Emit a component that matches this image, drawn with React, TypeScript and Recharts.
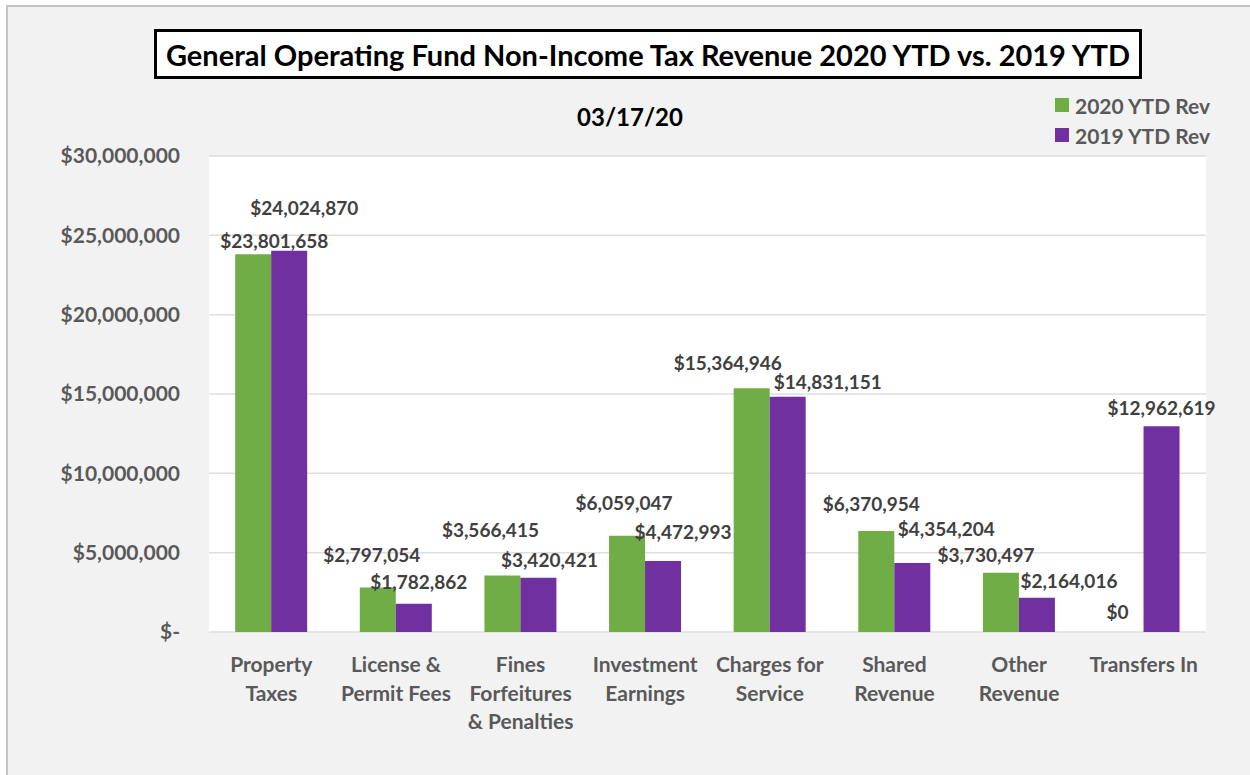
import React from "react";
import { BarChart, Bar, XAxis, YAxis, CartesianGrid, Legend, LabelList } from "recharts";

const categories = [
  "Property Taxes",
  "License & Permit Fees",
  "Fines Forfeitures & Penalties",
  "Investment Earnings",
  "Charges for Service",
  "Shared Revenue",
  "Other Revenue",
  "Transfers In",
];
const categoryLines = [
  ["Property", "Taxes"],
  ["License &", "Permit Fees"],
  ["Fines", "Forfeitures", "& Penalties"],
  ["Investment", "Earnings"],
  ["Charges for", "Service"],
  ["Shared", "Revenue"],
  ["Other", "Revenue"],
  ["Transfers In"],
];
const rev2020 = [23801658, 2797054, 3566415, 6059047, 15364946, 6370954, 3730497, 0];
const rev2019 = [24024870, 1782862, 3420421, 4472993, 14831151, 4354204, 2164016, 12962619];
const yTicks = [0, 5000000, 10000000, 15000000, 20000000, 25000000, 30000000];

// label offsets (relative to bar top centre), imitating the manually nudged labels
const off2020 = [[21, -14], [-6, -33], [-12, -46], [-3, -33], [-24, -26], [-5, -27], [-15, -18], [-8, -20]];
const off2019 = [[15, -43], [5, -22], [11, -18], [20, -30], [40, -15], [34, -34], [32, -17], [0, -19]];

const data = categories.map((name, i) => ({ name, y2020: rev2020[i], y2019: rev2019[i] }));

const FONT = "Lato, 'Noto Sans', sans-serif";
const GREEN = "#70ad47";
const PURPLE = "#7030a0";

const money = (v: number) => "$" + Math.round(v).toLocaleString("en-US");

const makeLabel = (offs: number[][]) => (props: any) => {
  const { x, y, width, height, value, index } = props;
  const o = offs[index] || [0, -10];
  const top = Number(height) < 0 ? Number(y) + Number(height) : Number(y);
  return (
    <text
      x={Number(x) + Number(width) / 2 + o[0]}
      y={top + o[1]}
      textAnchor="middle"
      dominantBaseline="central"
      fontFamily={FONT}
      fontWeight={700}
      fontSize={19}
      fill="#404040"
    >
      {money(Number(value))}
    </text>
  );
};

const XTick = (props: any) => {
  const { x, y, payload } = props;
  const lines = categoryLines[payload.index] || [String(payload.value)];
  return (
    <g>
      {lines.map((l, k) => (
        <text
          key={k}
          x={x}
          y={y + 32 + k * 28.5}
          textAnchor="middle"
          fontFamily={FONT}
          fontWeight={700}
          fontSize={21}
          fill="#595959"
        >
          {l}
        </text>
      ))}
    </g>
  );
};

const LegendContent = () => {
  const items = [
    { label: "2020 YTD Rev", color: GREEN },
    { label: "2019 YTD Rev", color: PURPLE },
  ];
  return (
    <div>
      {items.map((it) => (
        <div key={it.label} style={{ display: "flex", alignItems: "center", height: 30 }}>
          <span style={{ display: "inline-block", width: 14, height: 14, background: it.color, marginRight: 6 }} />
          <span style={{ fontFamily: FONT, fontWeight: 700, fontSize: 21, color: "#595959", whiteSpace: "nowrap" }}>
            {it.label}
          </span>
        </div>
      ))}
    </div>
  );
};

export default function App() {
  return (
    <div style={{ position: "absolute", left: 0, top: 0, width: 1250, height: 775, background: "#fff", overflow: "hidden" }}>
      <div
        style={{
          position: "absolute",
          left: 6,
          top: 5,
          width: 1260,
          height: 790,
          border: "2px solid #c4c4c4",
          background: "#f2f2f2",
        }}
      />
      <div
        style={{
          position: "absolute",
          left: 154,
          top: 29,
          width: 982,
          height: 44,
          border: "3px solid #000",
          background: "#fff",
          display: "flex",
          alignItems: "center",
          justifyContent: "center",
          fontFamily: FONT,
          fontWeight: 700,
          fontSize: 29,
          color: "#000",
          whiteSpace: "nowrap",
        }}
      >
        General Operating Fund Non-Income Tax Revenue 2020 YTD vs. 2019 YTD
      </div>
      <div
        style={{
          position: "absolute",
          left: 430,
          top: 102,
          width: 400,
          textAlign: "center",
          fontFamily: FONT,
          fontWeight: 700,
          fontSize: 24,
          color: "#000",
        }}
      >
        03/17/20
      </div>
      <div style={{ position: "absolute", left: 0, top: 0 }}>
        <BarChart
          width={1250}
          height={775}
          data={data}
          margin={{ top: 156, right: 44, bottom: 43, left: 0 }}
          barCategoryGap="21%"
          barGap={0}
        >
          <CartesianGrid vertical={false} stroke="#dedede" strokeWidth={1.5} fill="#ffffff" />
          <XAxis dataKey="name" axisLine={false} tickLine={false} tick={<XTick />} height={100} interval={0} />
          <YAxis
            width={209}
            domain={[0, 30000000]}
            ticks={yTicks}
            axisLine={false}
            tickLine={false}
            tickSize={0}
            tickMargin={29}
            tickFormatter={(v: number) => (v === 0 ? "$-" : money(v))}
            tick={{ fontFamily: FONT, fontWeight: 700, fontSize: 21, fill: "#595959" }}
          />
          <Legend
            content={<LegendContent />}
            wrapperStyle={{ position: "absolute", left: 1055, top: 90, width: 180, height: 0, overflow: "visible" }}
          />
          <Bar dataKey="y2020" name="2020 YTD Rev" fill={GREEN} minPointSize={0.01} isAnimationActive={false}>
            <LabelList dataKey="y2020" content={makeLabel(off2020)} />
          </Bar>
          <Bar dataKey="y2019" name="2019 YTD Rev" fill={PURPLE} isAnimationActive={false}>
            <LabelList dataKey="y2019" content={makeLabel(off2019)} />
          </Bar>
        </BarChart>
      </div>
    </div>
  );
}
